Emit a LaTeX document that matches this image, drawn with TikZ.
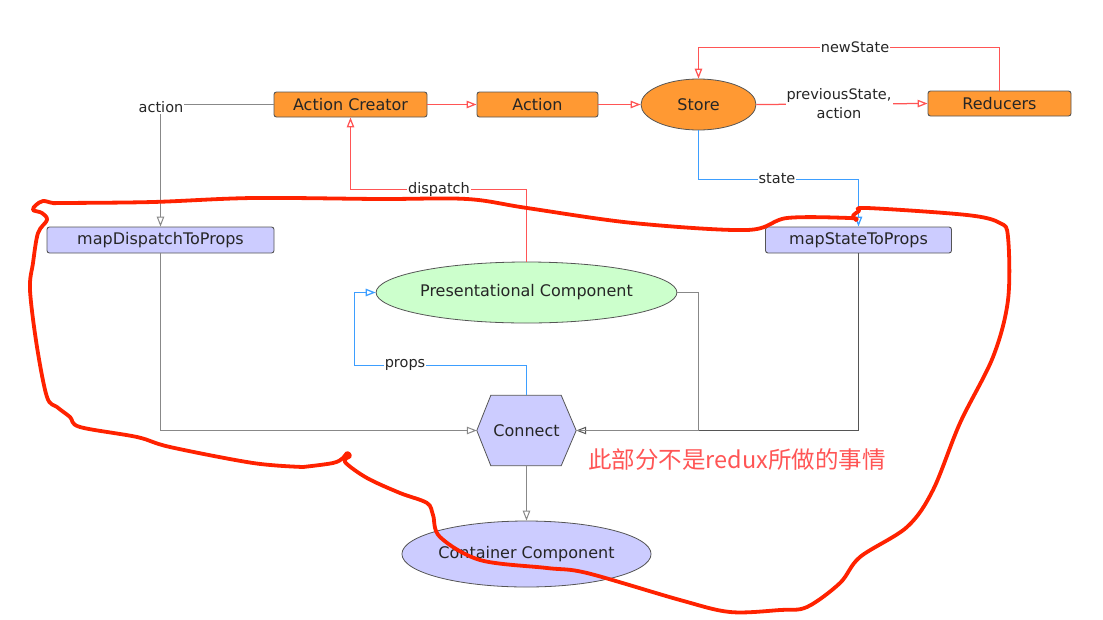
\documentclass[tikz,border=0pt]{standalone}
\usepackage{fontspec}
\setmainfont{DejaVu Sans}
\newfontfamily\cjk{Noto Sans CJK SC}
\usetikzlibrary{shapes.geometric,arrows.meta,calc}
\definecolor{orangefill}{HTML}{FF9933}
\definecolor{lavfill}{HTML}{CCCCFF}
\definecolor{greenfill}{HTML}{CCFFCC}
\definecolor{redline}{HTML}{FF5555}
\definecolor{blueline}{HTML}{3D9EFF}
\definecolor{grayline}{HTML}{888888}
\definecolor{darkline}{HTML}{555555}
\definecolor{border}{HTML}{555555}
\definecolor{marker}{HTML}{FF2200}
\definecolor{notecol}{HTML}{FF5555}
\tikzset{
  box/.style={draw=border, line width=0.9pt, rounded corners=2.5pt, inner sep=0pt,
    font=\fontsize{16}{19}\selectfont, text=black!85},
  obox/.style={box, fill=orangefill},
  lbox/.style={box, fill=lavfill},
  ell/.style={ellipse, draw=border, line width=0.8pt, inner sep=0pt,
    font=\fontsize{16}{19}\selectfont, text=black!85},
  lbl/.style={fill=white, inner sep=1pt, font=\fontsize{14.5}{19}\selectfont, text=black!85},
  tip/.style={-{Triangle[fill=white,length=10pt,width=7.5pt]}},
  conn/.style={line width=1pt},
  redc/.style={line width=1.25pt, draw=redline},
  bluec/.style={line width=1.25pt, draw=blueline},
  grayc/.style={conn, draw=grayline},
  darkc/.style={conn, draw=darkline},
}
\begin{document}
\begin{tikzpicture}[x=1pt,y=-1pt]
\useasboundingbox (0,0) rectangle (1103,619);
% nodes
\node[obox, minimum width=153pt, minimum height=25pt] (ac) at (350.5,104.5) {Action Creator};
\node[obox, minimum width=121pt, minimum height=25pt] (act) at (537.5,104.5) {Action};
\node[ell, fill=orangefill, minimum width=115pt, minimum height=51pt] (store) at (698.5,104.5) {Store};
\node[obox, minimum width=143pt, minimum height=25pt] (reducers) at (999.5,103.5) {Reducers};
\node[lbox, minimum width=227pt, minimum height=26pt] (mdp) at (160.5,240) {mapDispatchToProps};
\node[lbox, minimum width=186pt, minimum height=26pt] (mstp) at (858.5,240) {mapStateToProps};
\node[ell, fill=greenfill, minimum width=283pt, minimum height=61pt] (pres) at (526.5,292.5) {Presentational Component};
\node[ell, fill=lavfill, minimum width=248pt, minimum height=66pt] (cont) at (526.5,554) {Container Component};
\node[inner sep=0pt, minimum width=99pt, minimum height=70pt] (connect) at (526.5,430.5) {};
\fill[lavfill] (connect.west) -- ($(connect.north west)+(14,0)$) -- ($(connect.north east)+(-15,0)$) -- (connect.east) -- ($(connect.south east)+(-15,0)$) -- ($(connect.south west)+(14,0)$) -- cycle;
\draw[border, line width=0.8pt] (connect.west) -- ($(connect.north west)+(14,0)$) -- ($(connect.north east)+(-15,0)$) -- (connect.east) -- ($(connect.south east)+(-15,0)$) -- ($(connect.south west)+(14,0)$) -- cycle;
\node[font=\fontsize{16}{19}\selectfont, text=black!85] (connectlbl) at (connect.center) {Connect};
% coordinates
\coordinate (c1) at (160.5,104.5);
\coordinate (c2) at (999.5,47.5);
\coordinate (c2b) at (698.5,47.5);
\coordinate (c3) at (698.5,179.5);
\coordinate (c4) at (526.5,189.5);
\coordinate (c5) at (698.5,292.5);
\coordinate (c6) at (698.5,430.5);
\coordinate (c7) at (526.5,365.5);
\coordinate (c8) at (354.5,292.5);
% connectors
\draw[grayc, tip] (ac.west) -- (c1) -- (mdp.north);
\node[lbl] (lact) at (161,107) {action};
\draw[redc, tip] (ac.east) -- (act.west);
\draw[redc, tip] (act.east) -- (store.west);
\draw[redc, tip] (store.east) -- (reducers.west);
\node[lbl, align=center] (lprev) at (839,104) {previousState,\\action};
\draw[redc, tip] (reducers.north -| c2) -- (c2) -- (c2b) -- (store.north);
\node[lbl] (lnew) at (855,47) {newState};
\draw[bluec, tip] (store.south) -- (c3) -| (mstp.north);
\node[lbl] (lstate) at (777,179) {state};
\draw[redc, tip] (pres.north -| c4) -- (c4) -| (ac.south);
\node[lbl] (ldisp) at (439,189) {dispatch};
\draw[grayc, tip] (mdp.south) |- (connect.west);
\draw[darkc, tip] (mstp.south) |- (connect.east);
\draw[grayc] (pres.east) -- (c5) -- (c6) -- (connect.east);
\draw[bluec, tip] (connect.north) -- (c7) -| (c8) -- (pres.west);
\node[lbl] (lprops) at (405,365) {props};
\draw[grayc, tip] (connect.south) -- (cont.north);
% note
\node[text=notecol, font=\cjk\fontsize{23.5}{27}\selectfont, inner sep=0pt] (note) at (737,460) {此部分不是redux所做的事情};
% freehand marker
\draw[marker, line width=3.8pt, line cap=round, line join=round] plot[smooth, tension=0.55] coordinates {
(303,467) (333,463) (343,458) (347,453) (350,456) (345,462) (367,478) (400,493) (427,503) (433,515) (440,537) (480,560) (547,568) (587,573) (680,600) (730,612) (780,610) (807,607) (840,583) (860,557) (907,527) (933,490) (960,423) (993,357) (1008,300) (1008,237) (1000,223) (967,215) (867,208) (859,211) (853,216) (856,220) (850,218) (787,218) (747,230) (633,223) (527,208) (467,199) (380,199) (253,198) (153,202) (63,203) (53,203) (43,201) (36,205) (33,210) (42,213) (47,220) (38,233) (33,263) (30,290) (37,347) (47,397) (57,407) (70,417) (80,427) (137,437) (170,447) (253,463) (303,467)};
\end{tikzpicture}
\end{document}
